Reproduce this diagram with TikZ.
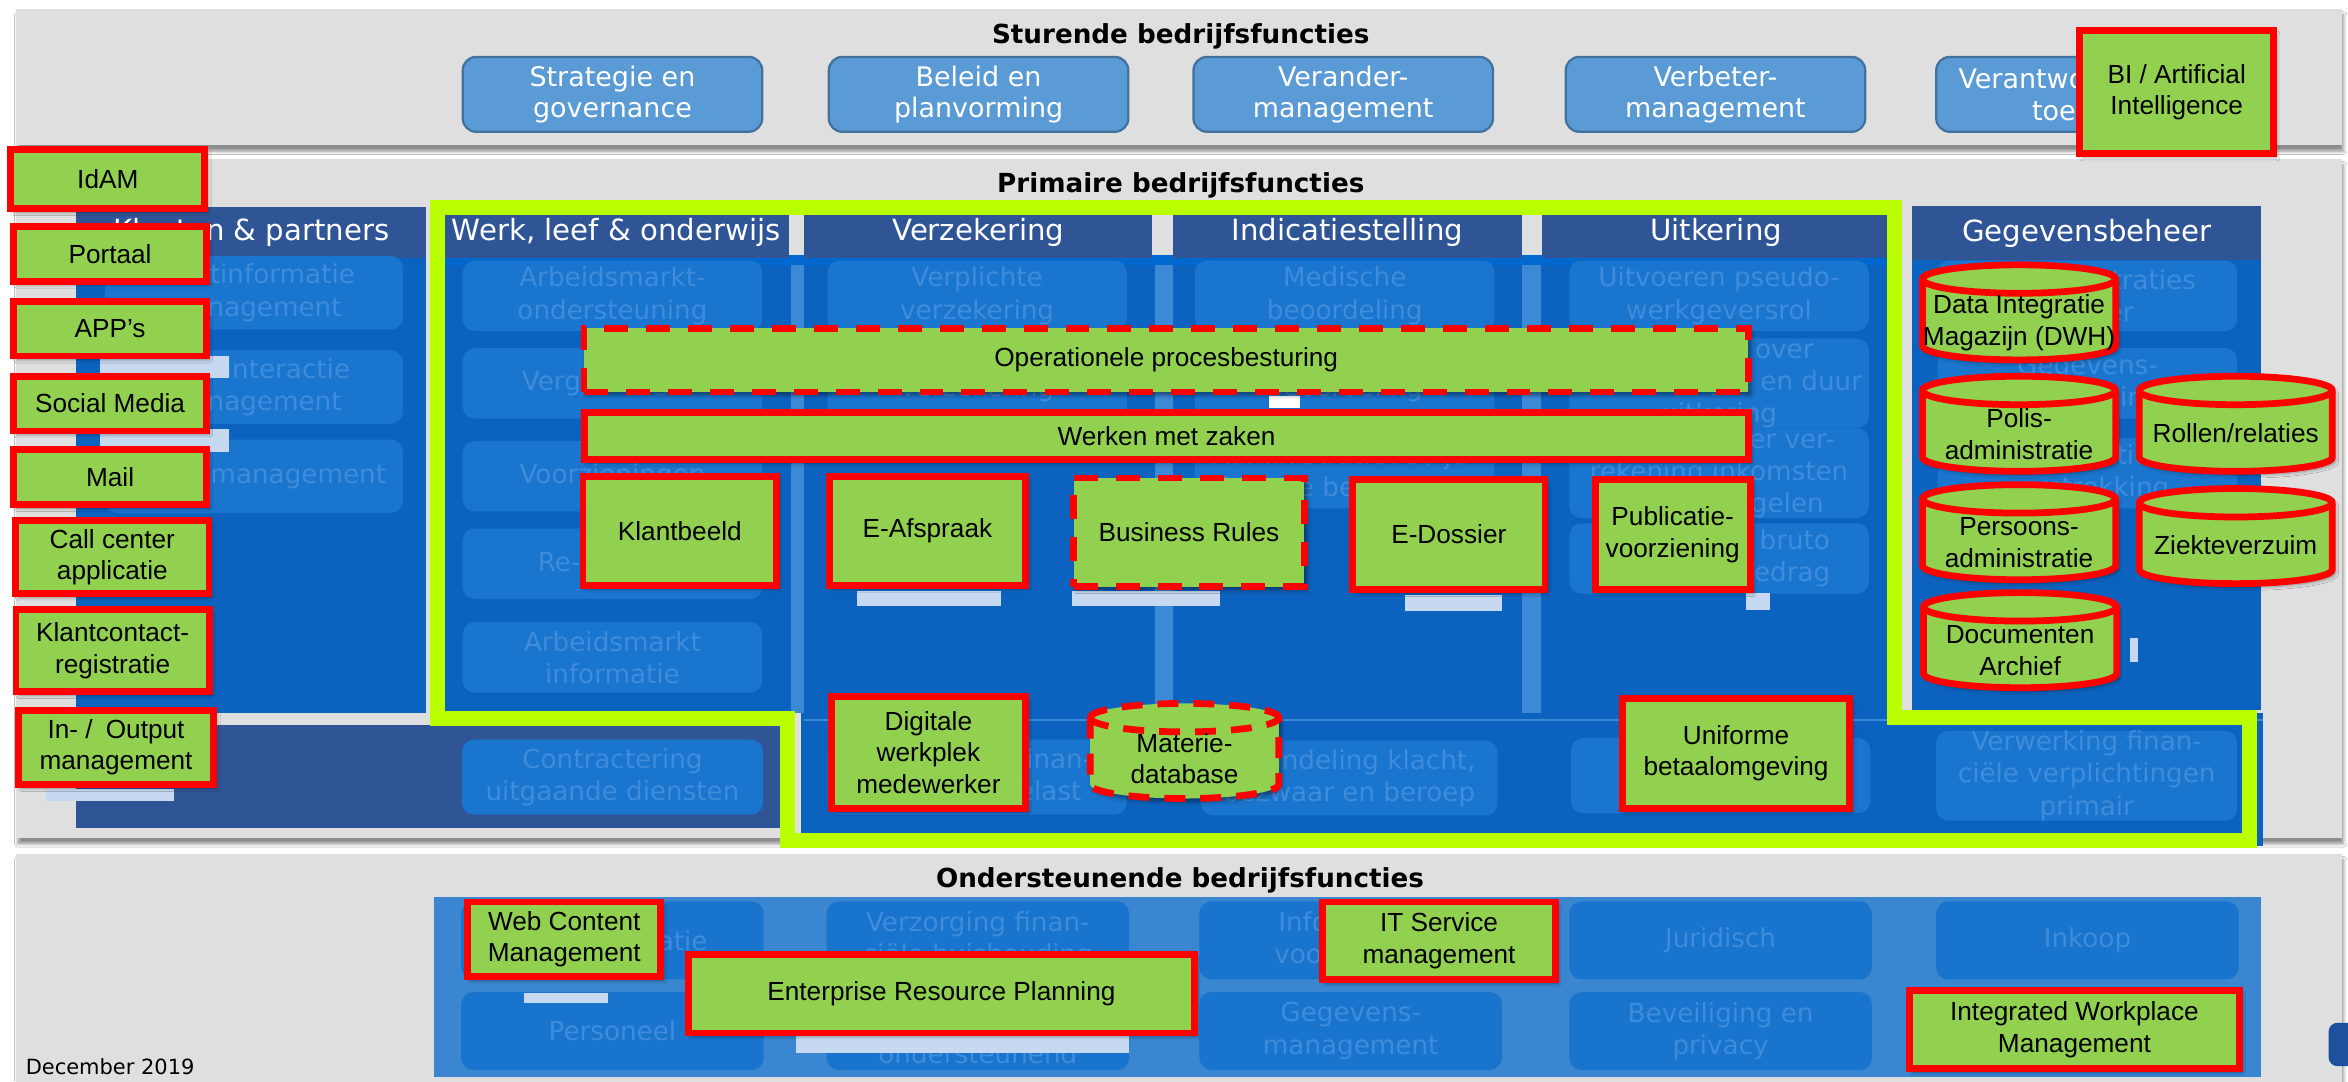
\documentclass[tikz,border=0pt]{standalone}
\usepackage{fontspec}
\setmainfont{DejaVu Sans}
\newfontfamily\arialfont{Liberation Sans}
\usetikzlibrary{shadows.blur}
\definecolor{panel}{RGB}{223, 223, 223}
\definecolor{topblue}{RGB}{91, 155, 213}
\definecolor{topedge}{RGB}{65, 113, 156}
\definecolor{headblue}{RGB}{47, 85, 151}
\definecolor{bodyblue}{RGB}{12, 99, 191}
\definecolor{stripblue}{RGB}{0, 104, 206}
\definecolor{paleblue}{RGB}{60, 137, 214}
\definecolor{ghostfill}{RGB}{26, 117, 207}
\definecolor{ghosttext}{RGB}{62, 140, 218}
\definecolor{supband}{RGB}{58, 134, 208}
\definecolor{supbox}{RGB}{24, 116, 205}
\definecolor{appgreen}{RGB}{146, 208, 80}
\definecolor{appred}{RGB}{255, 0, 0}
\definecolor{limeline}{RGB}{186, 255, 0}
\definecolor{leftover}{RGB}{198, 217, 240}
\definecolor{logoblue}{RGB}{30, 80, 160}

% database cylinder: [extra style]{name}{cx}{cy}{half width}
\newcommand{\dbcyl}[5][]{%
  \coordinate (#2) at (#3,#4);
  \begin{scope}[shift={(#2)}]
    \filldraw[dbshape, dbshadow, #1] (-#5,-22.25) -- (-#5,22.25)
      arc[start angle=180, end angle=360, x radius=#5pt, y radius=9.5pt]
      -- (#5,-22.25) arc[start angle=0, end angle=180, x radius=#5pt, y radius=9.5pt] -- cycle;
    \draw[dbshape, fill=none, #1] (-#5,-22.25) arc[start angle=180, end angle=360, x radius=#5pt, y radius=9.5pt];
  \end{scope}}

\begin{document}
\begin{tikzpicture}[x=1pt, y=-1pt,
    panelbox/.style={fill=panel, blur shadow={shadow xshift=1pt, shadow yshift=-4pt, shadow blur steps=6, shadow opacity=45}},
    title/.style={font=\bfseries\fontsize{17.5}{21}\selectfont, text=black, inner sep=0pt},
    topbox/.style={draw=topedge, line width=1.5pt, fill=topblue, rounded corners=9pt, minimum width=200pt, minimum height=50pt, inner sep=0pt, align=center, text=white, font=\fontsize{18}{21}\selectfont},
    colhead/.style={fill=headblue, inner sep=0pt, text=white, font=\fontsize{19.5}{22}\selectfont},
    ghost/.style={fill=ghostfill, rounded corners=8pt, minimum width=200pt, minimum height=47pt, inner sep=0pt, align=center, text=ghosttext, font=\fontsize{17.5}{21.5}\selectfont},
    supghost/.style={ghost, fill=supbox, minimum width=202pt, minimum height=52pt},
    app/.style={draw=appred, line width=4.5pt, fill=appgreen, inner sep=0pt, align=center, font=\arialfont\fontsize{17.5}{21}\selectfont, blur shadow={shadow xshift=2pt, shadow yshift=-2.5pt, shadow blur steps=4, shadow opacity=40}},
    appdash/.style={app, dash pattern=on 16pt off 12pt},
    dbshape/.style={draw=appred, line width=4.5pt, fill=appgreen},
    dbshadow/.style={blur shadow={shadow xshift=2pt, shadow yshift=-2.5pt, shadow blur steps=4, shadow opacity=40}},
    dbtext/.style={align=center, inner sep=0pt, font=\arialfont\fontsize{17.5}{21}\selectfont},
  ]
  \useasboundingbox (0,0) rectangle (1568,722);
  \fill[white] (0,0) rectangle (1568,722);

  % three bands
  \fill[panelbox] (11,6) rectangle (1564,97);
  \fill[panelbox] (11,106) rectangle (1564,559.5);
  \fill[panelbox] (11,570) rectangle (1564,730);

  \node[title] (sturend) at (788.5,24) {Sturende bedrijfsfuncties};
  \node[title] (primair) at (788.5,124) {Primaire bedrijfsfuncties};
  \node[title] (onderst) at (788,588) {Ondersteunende bedrijfsfuncties};

  \node[topbox] (strategie) at (409,63) {Strategie en\\governance};
  \node[topbox] (beleid) at (653.5,63) {Beleid en\\planvorming};
  \node[topbox] (verander) at (897,63) {Verander-\\management};
  \node[topbox] (verbeter) at (1145.6,63) {Verbeter-\\management};
  \node[topbox] (verantw) at (1393,63) {Verantwoording en\\toezicht};

  % primaire kolommen
  \fill[bodyblue] (51,172.5) rectangle (284.6,476);
  \fill[bodyblue] (296,172) rectangle (1262,476);
  \fill[stripblue] (296,170) rectangle (1262,177);
  \fill[bodyblue] (1277,172) rectangle (1510,474);
  \fill[paleblue] (528,177) rectangle (537,476);
  \fill[paleblue] (771,177) rectangle (783,476);
  \fill[paleblue] (1016.5,177) rectangle (1029,476);
  \fill[headblue] (51,484) rectangle (526,553);
  \fill[bodyblue] (535,476) rectangle (1511,565);
  \draw[paleblue, line width=1.5pt] (537,481) -- (1511,481);

  \node[colhead, minimum width=233.6pt, minimum height=34.5pt] (hklant) at (167.8,155.3) {Klanten \& partners};
  \node[colhead, minimum width=231pt, minimum height=34pt] (hwerk) at (411.5,155) {Werk, leef \& onderwijs};
  \node[colhead, minimum width=232.5pt, minimum height=34pt] (hverz) at (653.3,155) {Verzekering};
  \node[colhead, minimum width=233.5pt, minimum height=34pt] (hindic) at (899.8,155) {Indicatiestelling};
  \node[colhead, minimum width=232pt, minimum height=34pt] (huitk) at (1146,155) {Uitkering};
  \node[colhead, minimum width=233pt, minimum height=36pt] (hgegev) at (1393.5,155.6) {Gegevensbeheer};

  \node[ghost, minimum width=199pt, minimum height=49pt] (klant1) at (169.5,195.5) {Klantinformatie\\management};
  \node[ghost, minimum width=199pt, minimum height=49pt] (klant2) at (169.5,258.5) {Klantinteractie\\management};
  \node[ghost, minimum width=199pt, minimum height=49pt] (klant3) at (169.5,318) {Kanaalmanagement};

  \node[ghost] (werk1) at (409,197.5) {Arbeidsmarkt-\\ondersteuning};
  \node[ghost] (werk2) at (409,256) {Vergoedingen};
  \node[ghost] (werk3) at (409,318) {Voorzieningen};
  \node[ghost] (werk4) at (409,376.5) {\hspace*{14pt}Re-integratie};
  \node[ghost] (werk5) at (409,439) {Arbeidsmarkt\\informatie};

  \node[ghost] (verz1) at (652.5,197.5) {Verplichte\\verzekering};
  \node[ghost] (verz2) at (652.5,256) {\mbox{}\\verzekering};

  \node[ghost] (indic1) at (898,197.5) {Medische\\beoordeling};
  \node[ghost] (indic2) at (898,256) {\mbox{}\\beoordeling};
  \node[ghost] (indic3) at (898,316) {Administratieve / ju-\\ridische beoordeling};

  \node[ghost] (uitk1) at (1148,197.5) {Uitvoeren pseudo-\\werkgeversrol};
  \node[ghost] (uitk2) at (1148,256) {Beslissen over\\recht, hoogte en duur\\uitkering};
  \node[ghost] (uitk3) at (1148,316) {Toezicht over ver-\\rekening inkomsten\\volgens regelen};
  \node[ghost] (uitk4) at (1148,373) {Vaststellen bruto\\uitkeringsbedrag};

  \node[ghost] (gegev1) at (1394,197.5) {Basisregistraties\\beheer};
  \node[ghost] (gegev2) at (1394,256) {Gegevens-\\verwerking};
  \node[ghost] (gegev3) at (1394,316) {Informatie-\\verstrekking};

  \node[ghost, minimum width=201pt, minimum height=50pt] (contract) at (409,519) {Contractering\\uitgaande diensten};
  \node[ghost, minimum height=50pt] (finlast) at (652.5,519) {Verwerking finan-\\ciële premielast};
  \node[ghost, minimum width=198pt, minimum height=50pt] (klacht) at (901,519.5) {Afhandeling klacht,\\bezwaar en beroep};
  \node[ghost, minimum height=50pt] (betaal) at (1149,518) {};
  \node[ghost, minimum width=201pt, minimum height=50pt] (finprim) at (1393.5,518) {Verwerking finan-\\ciële verplichtingen\\primair};

  % restjes
  \foreach \xa/\ya/\xb/\yb in {572/394.5/668.5/405, 716/394.5/815/405, 938/397.4/1003/408,
      1166/396/1182/407.5, 1422.6/426/1428/442, 66.5/238/153/252.6, 66.5/286.5/153/302, 31/527/116/535}
    \fill[leftover] (\xa,\ya) rectangle (\xb,\yb);
  \fill[white] (847.5,264.5) rectangle (868,272.5);

  \draw[limeline, line width=10pt] (292,138.5) -- (1265,138.5) -- (1265,479) -- (1502.5,479)
    -- (1502.5,561) -- (526,561) -- (526,479.5) -- (292,479.5) -- cycle;

  % applicaties primair
  \node[appdash, minimum width=777.5pt, minimum height=42.5pt] (procesbest) at (778.8,240.5) {Operationele procesbesturing};
  \node[app, minimum width=777.5pt, minimum height=31.5pt] (zaken) at (779,291) {Werken met zaken};
  \node[app, minimum width=129.5pt, minimum height=72.5pt] (klantbeeld) at (454,354.5) {Klantbeeld};
  \node[app, minimum width=131pt, minimum height=72.5pt] (eafspraak) at (619.3,354.5) {E-Afspraak};
  \node[appdash, minimum width=154pt, minimum height=72.5pt] (bizrules) at (794,355.5) {Business Rules};
  \node[app, minimum width=128.5pt, minimum height=73.5pt] (edossier) at (967.5,357) {E-Dossier};
  \node[app, minimum width=103.5pt, minimum height=73.5pt] (publicatie) at (1117,357) {Publicatie-\\voorziening};
  \node[app, minimum width=129.5pt, minimum height=74.5pt] (digiwerk) at (620,502.5) {Digitale\\werkplek\\medewerker};
  \node[app, minimum width=152pt, minimum height=73.5pt] (uniforme) at (1159.3,503) {Uniforme\\betaalomgeving};

  \dbcyl[dash pattern=on 14pt off 10pt]{materie}{791}{501.5}{63}
  \node[dbtext] (materie-t) at ([yshift=-5pt]materie) {Materie-\\database};

  \dbcyl{dwh}{1348.3}{208.6}{64.5}
  \node[dbtext] (dwh-t) at ([yshift=-7pt]dwh) {Data Integratie\\Magazijn (DWH)};
  \dbcyl{polis}{1348.3}{283}{64.5}
  \node[dbtext] (polis-t) at ([yshift=-7pt]polis) {Polis-\\administratie};
  \dbcyl{rollen}{1493}{283}{64.5}
  \node[dbtext] (rollen-t) at ([yshift=-6pt]rollen) {Rollen/relaties};
  \dbcyl{persoons}{1348.3}{355.4}{64.5}
  \node[dbtext] (persoons-t) at ([yshift=-7pt]persoons) {Persoons-\\administratie};
  \dbcyl{ziekte}{1493}{358}{64.5}
  \node[dbtext] (ziekte-t) at ([yshift=-6pt]ziekte) {Ziekteverzuim};
  \dbcyl{docs}{1349}{427.5}{64.5}
  \node[dbtext] (docs-t) at ([yshift=-7pt]docs) {Documenten\\Archief};

  % ondersteunend
  \fill[supband] (290,599) rectangle (1510,719);
  \node[supghost] (commu) at (409,628) {Communicatie};
  \node[supghost] (verzorg) at (653,628) {Verzorging finan-\\ciële huishouding};
  \node[supghost] (infovz) at (902,628) {Informatie-\\voorziening};
  \node[supghost] (juri) at (1149,628) {Juridisch};
  \node[supghost] (inkoop) at (1394,628) {Inkoop};
  \node[supghost] (personeel) at (409,688.5) {Personeel};
  \node[supghost] (facil) at (653,688.5) {\mbox{}\\\mbox{}\\ondersteunend};
  \node[supghost] (gegmgmt) at (902,688.5) {Gegevens-\\management};
  \node[supghost] (beveilig) at (1149,688.5) {Beveiliging en\\privacy};
  \node[supghost] (leeg) at (1394,688.5) {};
  \fill[leftover] (350,663) rectangle (406,670);
  \fill[leftover] (531.6,692) rectangle (754,703);

  \node[app, minimum width=129pt, minimum height=50pt] (wcm) at (376.8,627.3) {Web Content\\Management};
  \node[app, minimum width=338pt, minimum height=52.5pt] (erp) at (628.7,663.5) {Enterprise Resource Planning};
  \node[app, minimum width=155.5pt, minimum height=52pt] (itsm) at (961,628.3) {IT Service\\management};
  \node[app, minimum width=220pt, minimum height=52.5pt] (iwm) at (1385.3,687.5) {Integrated Workplace\\Management};

  % kanalen links
  \node[app, minimum width=129.5pt, minimum height=39.5pt] (idam) at (72,119.5) {IdAM};
  \node[app, minimum width=128.5pt, minimum height=36.5pt] (portaal) at (73.5,169.5) {Portaal};
  \node[app, minimum width=128.5pt, minimum height=36.5pt] (apps) at (73.5,219.5) {APP’s};
  \node[app, minimum width=128.5pt, minimum height=36.5pt] (social) at (73.5,269.5) {Social Media};
  \node[app, minimum width=128.5pt, minimum height=36.5pt] (mail) at (73.5,318.5) {Mail};
  \node[app, minimum width=129pt, minimum height=49pt] (callcenter) at (75,372) {Call center\\applicatie};
  \node[app, minimum width=129pt, minimum height=54.5pt] (klantcontact) at (75.2,434.5) {Klantcontact-\\registratie};
  \node[app, minimum width=130.5pt, minimum height=49.5pt] (inoutput) at (77.5,499) {In- /\enspace Output\\management};

  \node[app, minimum width=129.5pt, minimum height=82.5pt] (bi) at (1453.6,61.5) {BI / Artificial\\Intelligence};

  \node[anchor=west, inner sep=0pt, font=\fontsize{14}{16}\selectfont] (datum) at (17,712) {December 2019};
  \fill[logoblue, rounded corners=6pt] (1555,683) rectangle (1580,712);
\end{tikzpicture}
\end{document}
